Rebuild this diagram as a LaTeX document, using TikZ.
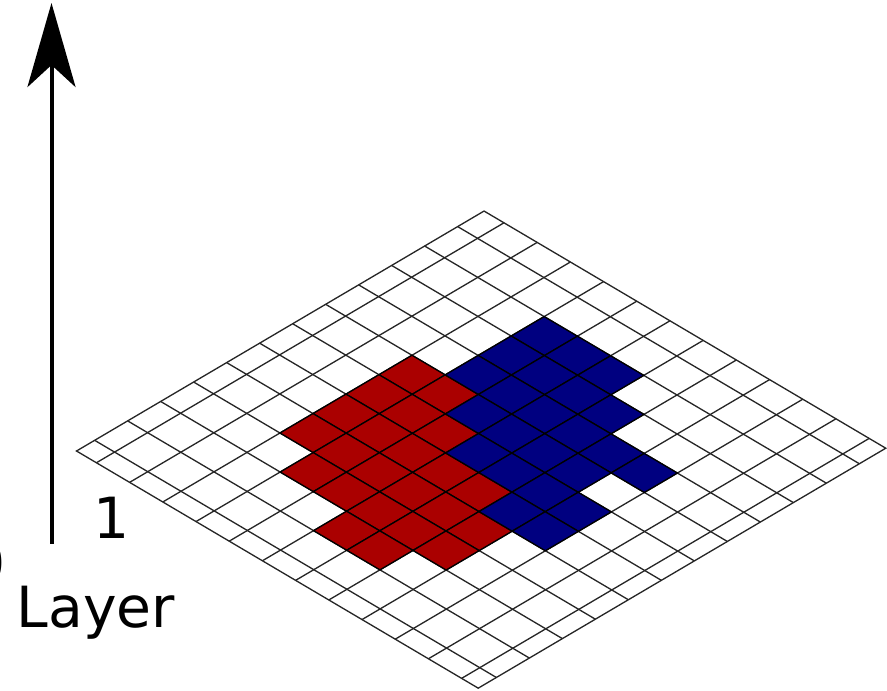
\documentclass[tikz,border=0pt]{standalone}
\usepackage{fontspec}
\setmainfont{DejaVu Sans}
\usetikzlibrary{arrows.meta}
\definecolor{cellRed}{HTML}{AA0000}
\definecolor{cellBlue}{HTML}{000080}
\definecolor{gridGray}{HTML}{262626}

\begin{document}
\begin{tikzpicture}[
  every node/.style={font=\fontsize{32.3}{38}\selectfont, inner sep=0pt},
  layeraxis/.style={-{Stealth[length=1.68cm, width=0.96cm, inset=0.44cm]}, line width=0.08cm},
  gridline/.style={gridGray, line width=0.75pt},
  redcell/.style={fill=cellRed, draw=black, line width=0.75pt},
  bluecell/.style={fill=cellBlue, draw=black, line width=0.75pt},
]
\useasboundingbox (0,0) rectangle (17.74,-13.82);

% Layer axis
\coordinate (axisbase) at (1.03,-10.87);
\coordinate (axistip) at (1.03,-0.06);
\draw[layeraxis] (axisbase) -- (axistip);

% Labels
\node[anchor=base] (layerone) at (2.24,-10.77) {1};
\node[anchor=base] (layerzero) at (-0.25,-11.66) {0};
\node[anchor=base west] (layername) at (0.33,-12.54) {Layer};

% Grid (skewed frame, one unit = one cell)
\begin{scope}[shift={(1.53,-9.02)}, x={(0.66cm,0.3886cm)}, y={(0.664cm,-0.392cm)}]
  % lines
  \foreach \k in {0,...,11} {
    \draw[gridline] (0.55+\k,0) -- (0.55+\k,12.1);
    \draw[gridline] (0,0.6+\k) -- (12.35,0.6+\k);
  }
  \draw[gridline] (0,0) -- (12.35,0) -- (12.35,12.1) -- (0,12.1) -- cycle;

  % red cells
  \foreach \p/\q in {6/2,5/2,6/3,4/2,5/3,3/2,4/3,5/4,3/3,4/4,2/3,3/4,4/5,
                     2/4,3/5,4/6,2/5,3/6,1/5,2/6,3/7,1/6,2/7}
    \filldraw[redcell] (0.55+\p,0.6+\q) -- ++(1,0) -- ++(0,1) -- ++(-1,0) -- cycle;

  % blue cells
  \foreach \p/\q in {9/3,8/3,9/4,7/3,8/4,9/5,7/4,8/5,6/4,7/5,8/6,6/5,7/6,
                     5/5,6/6,7/7,5/6,6/7,7/8,5/7,4/7,5/8,4/8}
    \filldraw[bluecell] (0.55+\p,0.6+\q) -- ++(1,0) -- ++(0,1) -- ++(-1,0) -- cycle;
\end{scope}

\end{tikzpicture}
\end{document}
